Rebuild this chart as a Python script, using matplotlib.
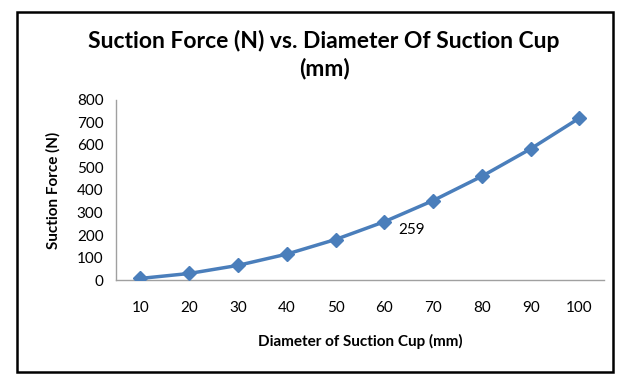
import matplotlib.pyplot as plt
from matplotlib.patches import Rectangle

diameters = ['10', '20', '30', '40', '50', '60', '70', '80', '90', '100']
force = [7, 29, 65, 115, 180, 259, 353, 461, 583, 720]
yticks = [0, 100, 200, 300, 400, 500, 600, 700, 800]

plt.rcParams['font.family'] = ['Lato', 'DejaVu Sans']

fig = plt.figure(figsize=(6.32, 3.85), dpi=100)
ax = fig.add_axes([0.1835, 0.2727, 0.772, 0.4676])

x = list(range(len(diameters)))
ax.plot(x, force, color='#4a7ebb', lw=2.5, marker='D', ms=7.5, zorder=3)
ax.annotate(str(force[5]), (x[5], force[5]), xytext=(10, -6), textcoords='offset points',
            fontsize=11, va='center', ha='left')

ax.set_xlim(-0.5, len(diameters) - 0.5)
ax.set_ylim(0, 800)
ax.set_xticks(x)
ax.set_xticklabels(diameters)
ax.set_yticks(yticks)
ax.tick_params(length=0, labelsize=11)
ax.tick_params(axis='x', pad=15)
ax.tick_params(axis='y', pad=9)
for s in ['top', 'right']:
    ax.spines[s].set_visible(False)
for s in ['left', 'bottom']:
    ax.spines[s].set_color('#a0a0a0')
    ax.spines[s].set_linewidth(1)

ax.set_xlabel('Diameter of Suction Cup (mm)', fontsize=11, fontweight='bold', labelpad=14)
ax.set_ylabel('Suction Force (N)', fontsize=11, fontweight='bold', labelpad=12)
fig.text(0.513, 0.858, 'Suction Force (N) vs. Diameter Of Suction Cup\n(mm)',
         ha='center', va='center', fontsize=16.5, fontweight='bold', linespacing=1.35)

fig.patches.append(Rectangle((17 / 632, 13 / 385), 596 / 632, 360 / 385,
                             transform=fig.transFigure, fill=False,
                             edgecolor='black', lw=1.8))

fig.savefig('out.png', dpi=100)
